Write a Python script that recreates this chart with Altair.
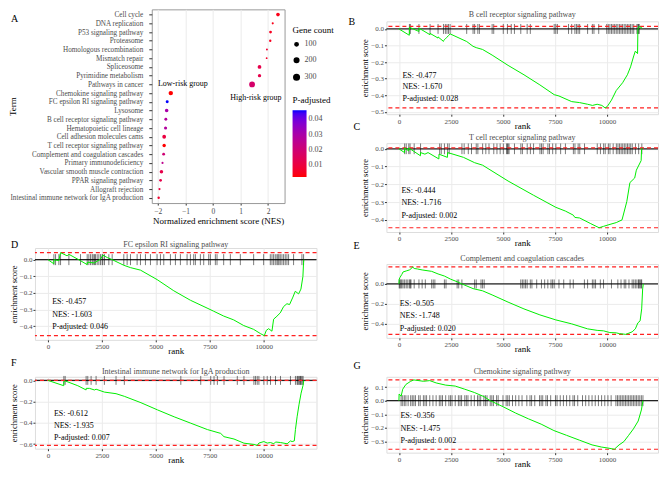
import altair as alt
import pandas as pd

FONT = "Liberation Serif"
GRID = "#ebebeb"
LABEL = "#4d4d4d"

# ---------------- Panel A data ----------------
terms = ["Cell cycle", "DNA replication", "P53 signaling pathway", "Proteasome",
         "Homologous recombination", "Mismatch repair", "Spliceosome",
         "Pyrimidine metabolism", "Pathways in cancer", "Chemokine signaling pathway",
         "FC epsilon RI signaling pathway", "Lysosome", "B cell receptor signaling pathway",
         "Hematopoietic cell lineage", "Cell adhesion molecules cams",
         "T cell receptor signaling pathway", "Complement and coagulation cascades",
         "Primary immunodeficiency", "Vascular smooth muscle contraction",
         "PPAR signaling pathway", "Allograft rejection",
         "Intestinal immune network for IgA production"]
nes = [2.36, 2.17, 2.09, 2.08, 1.96, 1.95, 1.69, 1.69, 1.42, -1.53, -1.66, -1.68,
       -1.71, -1.72, -1.77, -1.77, -1.79, -1.83, -1.87, -1.90, -1.94, -1.97]
gene_count = [125, 36, 68, 46, 28, 23, 127, 98, 325, 189, 79, 121,
              75, 87, 133, 108, 69, 35, 115, 69, 38, 48]
p_adjusted = [0.004, 0.004, 0.005, 0.005, 0.008, 0.006, 0.012, 0.012, 0.018, 0.002, 0.046, 0.030,
              0.028, 0.028, 0.010, 0.002, 0.020, 0.025, 0.012, 0.012, 0.010, 0.007]
group_labels = ["Low-risk group", "High-risk group"]
group_nes = [-1.09, 1.56]
group_term = ["Pathways in cancer", "Chemokine signaling pathway"]

# ---------------- GSEA panels: running enrichment score (rank, ES) ----------------
B_curve = [(0, 0.0), (500, -0.038), (505, 0.01), (960, -0.015), (963, 0.005), (1495, -0.035),
           (1498, -0.027), (1880, -0.055), (1881, -0.048), (2140, -0.075), (2150, -0.07),
           (2232, -0.06), (2309, -0.05), (2385, -0.04), (2462, -0.03), (3257, -0.076),
           (3563, -0.105), (3716, -0.113), (4022, -0.124), (4480, -0.158), (5245, -0.22),
           (6010, -0.277), (6774, -0.338), (7462, -0.397), (7691, -0.405), (8303, -0.439),
           (8685, -0.445), (9067, -0.455), (9300, -0.462), (9526, -0.455), (9750, -0.462),
           (9908, -0.477), (10015, -0.468), (10214, -0.43), (10443, -0.372), (10749, -0.325),
           (10979, -0.277), (11131, -0.229), (11284, -0.163), (11361, -0.134), (11468, -0.149),
           (11483, 0.0), (11550, 0.015), (11697, 0.004)]
C_curve = [(0, 0.0), (270, -0.021), (275, 0.005), (470, -0.012), (474, 0.005), (1035, -0.039),
           (1040, -0.021), (1250, -0.03), (1400, -0.021), (1920, -0.057), (1927, -0.03),
           (2330, -0.048), (2341, -0.021), (2600, -0.03), (3104, -0.048), (3639, -0.078),
           (4022, -0.092), (5245, -0.181), (6468, -0.261), (7538, -0.329), (7997, -0.35),
           (8379, -0.373), (8456, -0.386), (8685, -0.389), (9220, -0.421), (9620, -0.444),
           (9837, -0.436), (10143, -0.425), (10443, -0.415), (10720, -0.40), (10950, -0.297),
           (11100, -0.19), (11330, -0.164), (11410, -0.12), (11640, -0.066), (11660, 0.0),
           (11700, 0.005)]
D_curve = [(0, 0.0), (275, -0.025), (278, 0.0), (505, -0.006), (586, 0.042), (890, 0.023),
           (972, 0.032), (1505, -0.006), (1821, -0.03), (1830, -0.015), (2150, -0.02),
           (2438, 0.003), (2546, 0.027), (2747, 0.013), (2978, 0.0), (3518, -0.034),
           (3827, -0.048), (4290, -0.063), (5061, -0.12), (5833, -0.187), (6604, -0.244),
           (7376, -0.291), (7684, -0.31), (8147, -0.339), (8610, -0.362), (9073, -0.396),
           (9536, -0.419), (9844, -0.444), (10030, -0.457), (10122, -0.425), (10230, -0.415),
           (10384, -0.43), (10461, -0.358), (10615, -0.34), (10770, -0.32), (10924, -0.282),
           (11078, -0.265), (11200, -0.27), (11356, -0.225), (11464, -0.19), (11619, -0.206),
           (11727, -0.177), (11819, -0.101), (11850, -0.015), (11865, 0.0)]
E_curve = [(0, 0.0), (15, 0.047), (46, 0.063), (138, 0.094), (199, 0.12), (352, 0.13),
           (505, 0.14), (612, 0.157), (657, 0.17), (734, 0.155), (887, 0.15), (1116, 0.14),
           (1575, 0.126), (1881, 0.1), (2186, 0.079), (2492, 0.047), (2798, 0.022), (3027, 0.0),
           (3563, -0.047), (4021, -0.069), (4480, -0.11), (5245, -0.182), (6009, -0.25),
           (6774, -0.31), (7538, -0.36), (8303, -0.40), (9067, -0.45), (9526, -0.465),
           (9832, -0.47), (10137, -0.487), (10443, -0.49), (10600, -0.498), (10902, -0.505),
           (11208, -0.48), (11361, -0.45), (11483, -0.39), (11590, -0.37), (11666, -0.25),
           (11712, -0.05), (11742, 0.0)]
F_curve = [(0, 0.0), (735, -0.05), (739, -0.01), (801, -0.005), (1386, -0.05), (1771, -0.09),
           (1775, -0.075), (1925, -0.075), (2156, -0.09), (2233, -0.083), (2618, -0.11),
           (3157, -0.125), (3542, -0.15), (4312, -0.21), (5082, -0.278), (5852, -0.343),
           (6622, -0.403), (7392, -0.463), (8008, -0.499), (8162, -0.53), (8624, -0.552),
           (9086, -0.591), (9548, -0.603), (9702, -0.612), (9779, -0.59), (10010, -0.576),
           (10164, -0.59), (10318, -0.585), (10472, -0.597), (10549, -0.58), (10780, -0.585),
           (11088, -0.597), (11242, -0.57), (11319, -0.576), (11420, -0.57), (11473, -0.463),
           (11550, -0.343), (11642, -0.224), (11735, -0.12), (11827, -0.045), (11858, 0.0)]
G_curve = [(0, 0.0), (10, 0.049), (107, 0.033), (183, 0.084), (336, 0.119), (566, 0.142),
           (719, 0.152), (1177, 0.142), (1483, 0.147), (1789, 0.13), (2248, 0.114),
           (2706, 0.107), (3165, 0.084), (3624, 0.06), (4082, 0.03), (4388, 0.0),
           (5000, -0.044), (5611, -0.091), (6223, -0.133), (6835, -0.172), (7446, -0.219),
           (8058, -0.254), (8669, -0.289), (9281, -0.324), (9740, -0.34), (10045, -0.347),
           (10351, -0.356), (10580, -0.324), (10810, -0.3), (11039, -0.254), (11268, -0.207),
           (11498, -0.149), (11651, -0.068), (11727, 0.0)]

# gene-set hit positions (rank)
B_hits = [505, 550, 963, 1498, 1881, 2141, 2232, 2309, 2385, 2462, 3257, 3563, 3639, 3792, 3868,
          4480, 4556, 5015, 5214, 5398, 5551, 5856, 6162, 6315, 7462, 7538, 7615, 8150, 8303,
          8456, 8532, 8609, 8685, 9067, 9296, 9373, 9602, 9985, 10061, 10138, 10214, 10290,
          10367, 10443, 10520, 10596, 10673, 10749, 10826, 10902, 10979, 11055, 11131, 11208,
          11284, 11437, 11483, 11513, 11550]
C_hits = [275, 352, 474, 536, 734, 1040, 1958, 2035, 2188, 2341, 2417, 3029, 3136, 3335, 3488,
          3717, 3794, 4023, 4176, 4329, 4559, 4712, 4865, 5018, 5171, 5217, 5247, 5293, 5553,
          5859, 5935, 6165, 6318, 6471, 6777, 6853, 6930, 7159, 7236, 7389, 7542, 7771, 8001,
          8384, 8460, 8613, 8690, 8919, 9531, 9684, 9837, 9914, 10067, 10143, 10296, 10449,
          10526, 10602, 10679, 10755, 10832, 10908, 10985, 11061, 11138, 11214, 11367, 11520,
          11673]
D_hits = [278, 355, 509, 586, 972, 1512, 1821, 1898, 1975, 2053, 2099, 2160, 2207, 2284, 2361,
          2438, 2515, 2546, 2623, 2824, 2978, 3518, 3672, 3827, 4135, 4290, 4521, 4753, 5061,
          5215, 5370, 5678, 5910, 6141, 6450, 6604, 6758, 6836, 7067, 7221, 7453, 7530, 7761,
          7838, 8147, 8456, 8919, 9536, 9999, 10308, 10385, 10461, 10538, 10615, 10662, 10708,
          10770, 10847, 10924, 11001, 11078, 11155, 11387, 11773, 11850]
E_hits = [15, 46, 92, 138, 199, 275, 352, 428, 505, 550, 581, 734, 963, 1116, 1269, 1575, 1651,
          1728, 2186, 2263, 2798, 2874, 3027, 3639, 3716, 3945, 4021, 4098, 5856, 5933, 6009,
          6086, 6162, 6315, 6392, 6621, 6850, 7003, 7156, 7309, 7385, 7462, 7691, 7920, 8226,
          8379, 8914, 9067, 9296, 9373, 9449, 9679, 9832, 10214, 10520, 10673, 10826, 10902,
          11055, 11208, 11284, 11361, 11437, 11513, 11544, 11590, 11636, 11666]
F_hits = [739, 801, 1771, 1848, 2002, 2233, 2618, 3157, 3542, 6160, 7084, 7546, 7700, 7854,
          8162, 8778, 9086, 9548, 9625, 9702, 9779, 10010, 10164, 10318, 10549, 10780, 11242,
          11473, 11550, 11581, 11627, 11673, 11704, 11735, 11781, 11827]
G_hits = [107, 183, 260, 336, 443, 566, 642, 719, 795, 948, 1024, 1177, 1254, 1330, 1483, 1636,
          1789, 1942, 2018, 2095, 2248, 2401, 2477, 2553, 2706, 2859, 2936, 3012, 3165, 3241,
          3318, 3471, 3624, 3777, 3853, 3930, 4082, 4159, 4235, 4388, 4465, 4541, 4694, 4770,
          5000, 5153, 5229, 5306, 5459, 5611, 5764, 5917, 6147, 6299, 6376, 6529, 6758, 6835,
          6911, 7064, 7140, 7293, 7523, 7599, 7752, 7905, 8058, 8211, 8364, 8440, 8593, 8822,
          8975, 9128, 9281, 9434, 9587, 9740, 9893, 10045, 10198, 10427, 10504, 10580, 10657,
          10733, 10810, 10886, 10963, 11039, 11116, 11192, 11268, 11345, 11421, 11498, 11574,
          11651, 11727]

titles = {"B": "B cell receptor signaling pathway", "C": "T cell receptor signaling pathway",
          "D": "FC epsilon RI signaling pathway", "E": "Complement and coagulation cascades",
          "F": "Intestinal immune network for IgA production", "G": "Chemokine signaling pathway"}
es_text = {"B": "-0.477", "C": "-0.444", "D": "-0.457", "E": "-0.505", "F": "-0.612", "G": "-0.356"}
nes_text = {"B": "-1.670", "C": "-1.716", "D": "-1.603", "E": "-1.748", "F": "-1.935", "G": "-1.475"}
padj_text = {"B": "0.028", "C": "0.002", "D": "0.046", "E": "0.020", "F": "0.007", "G": "0.002"}

RANK_DOMAIN = [-600, 12450]


def note(text, px, py, size, color, align="left"):
    return alt.Chart(pd.DataFrame({"t": [text]})).mark_text(
        align=align, baseline="middle", fontSize=size, font=FONT, color=color).encode(
        x=alt.value(px), y=alt.value(py), text="t:N")


def gsea_panel(key, curve, hits, half, ydom, yvals, stat_x, stat_y, w, h, title_y, letters):
    cdf = pd.DataFrame(curve, columns=["rank", "es"])
    tdf = pd.DataFrame({"rank": hits})
    tdf["lo"] = -half
    tdf["hi"] = half
    xs = alt.Scale(domain=RANK_DOMAIN, nice=False, zero=False)
    ys = alt.Scale(domain=ydom, nice=False, zero=False)
    xax = alt.Axis(values=[0, 2500, 5000, 7500, 10000], format="d", labelFlush=False,
                   labelFontSize=7, labelColor=LABEL, labelFont=FONT, labelPadding=1,
                   titleFontSize=9, titleFont=FONT, titleFontWeight="normal", titleColor="black",
                   titlePadding=-3, tickSize=2, tickColor="#333333", domain=False,
                   grid=True, gridColor=GRID)
    yax = alt.Axis(values=yvals, format=".1f", labelFontSize=7, labelColor=LABEL, labelFont=FONT,
                   labelPadding=1, titleFontSize=8.5, titleFont=FONT, titleFontWeight="normal",
                   titleColor="black", titlePadding=1, tickSize=2, tickColor="#333333",
                   domain=False, grid=True, gridColor=GRID)

    def X(f):
        return alt.X(f, type="quantitative", scale=xs, axis=xax, title="rank")

    def Y(f):
        return alt.Y(f, type="quantitative", scale=ys, axis=yax, title="enrichment score")

    es_vals = [p[1] for p in curve]
    zero = alt.Chart(pd.DataFrame({"v": [0.0]})).mark_rule(
        color="#222222", strokeWidth=1.3).encode(y=Y("v"))
    ext = alt.Chart(pd.DataFrame({"v": [max(es_vals), min(es_vals)]})).mark_rule(
        color="#ff2020", strokeDash=[4, 3], strokeWidth=1.2).encode(y=Y("v"))
    tk = alt.Chart(tdf).mark_rule(color="black", opacity=0.7, strokeWidth=0.75).encode(
        x=X("rank"), y=Y("lo"), y2="hi")
    line = alt.Chart(cdf).mark_line(color="#00ee00", strokeWidth=1).encode(
        x=X("rank"), y=Y("es"))
    sdf = pd.DataFrame({"rank": [stat_x] * 3, "es": stat_y,
                        "label": ["ES: " + es_text[key], "NES: " + nes_text[key],
                                  "P-adjusted: " + padj_text[key]]})
    txt = alt.Chart(sdf).mark_text(align="left", baseline="middle", fontSize=8, font=FONT,
                                   color="black").encode(x=X("rank"), y=Y("es"), text="label:N")
    layers = [zero, tk, ext, line, txt, note(titles[key], w / 2, title_y, 8, LABEL, "center")]
    for (lt, lx, ly) in letters:
        layers.append(note(lt, lx, ly, 10, "black"))
    return alt.layer(*layers).properties(width=w, height=h)


def spacer():
    return alt.Chart(pd.DataFrame({"s": [0]})).mark_point(opacity=0, size=1).properties(
        width=1, height=1)


# ---------------- Panel A ----------------
A_W, A_H = 133, 194
dfA = pd.DataFrame({"Term": terms, "NES": nes, "Count": gene_count, "P": p_adjusted})
xA = alt.Scale(domain=[-2.22, 2.6], nice=False, zero=False)
yA = alt.Scale(type="point", padding=0.6)
xaxA = alt.Axis(values=[-2, -1, 0, 1, 2], format="d", labelFontSize=7.5, labelColor=LABEL,
                labelFont=FONT, titleFont=FONT, titleFontSize=9, titleFontWeight="normal",
                titleColor="black", tickSize=2, tickColor="#333333", domain=False,
                gridColor=GRID, labelPadding=2, titlePadding=2, labelFlush=False)
yaxA = alt.Axis(labelFontSize=7.2, labelColor=LABEL, labelFont=FONT, titleFont=FONT,
                titleFontSize=9, titleFontWeight="normal", titleColor="black", tickSize=3,
                tickColor="#333333", domain=False, gridColor=GRID, labelPadding=6,
                titleX=-134, titleY=A_H / 2, titleAngle=270)
pts = alt.Chart(dfA).mark_circle(opacity=1).encode(
    x=alt.X("NES:Q", scale=xA, axis=xaxA, title="Normalized enrichment score (NES)"),
    y=alt.Y("Term:N", sort=terms, scale=yA, axis=yaxA, title="Term"),
    size=alt.Size("Count:Q", scale=alt.Scale(domain=[20, 330], range=[3, 34]),
                  legend=alt.Legend(title="Gene count", values=[100, 200, 300], orient="none",
                                    legendX=A_W + 8, legendY=17, titleFont=FONT,
                                    titleFontSize=9, titleFontWeight="normal",
                                    labelFont=FONT, labelFontSize=8, labelColor=LABEL,
                                    symbolFillColor="black", symbolStrokeColor="black",
                                    symbolType="circle", rowPadding=5, titlePadding=5)),
    color=alt.Color("P:Q", scale=alt.Scale(domain=[0.002, 0.046], range=["#ff0000", "#0000ff"],
                                           interpolate="lab"),
                    legend=alt.Legend(title="P-adjusted", values=[0.01, 0.02, 0.03, 0.04],
                                      format=".2f", orient="none", legendX=A_W + 8, legendY=87,
                                      gradientLength=67, gradientThickness=14, titleFont=FONT,
                                      titleFontSize=9, titleFontWeight="normal", labelFont=FONT,
                                      labelFontSize=8, labelColor=LABEL, titlePadding=5)),
)
dfG = pd.DataFrame({"label": group_labels, "NES": group_nes, "Term": group_term})
low = alt.Chart(dfG.iloc[[0]]).mark_text(fontSize=8, font=FONT, color="black").encode(
    x=alt.X("NES:Q", scale=xA, axis=xaxA, title="Normalized enrichment score (NES)"),
    y=alt.Y("Term:N", sort=terms, scale=yA, axis=yaxA, title="Term"), text="label:N")
high = alt.Chart(dfG.iloc[[1]]).mark_text(fontSize=8, font=FONT, color="black", dy=5).encode(
    x=alt.X("NES:Q", scale=xA, axis=xaxA, title="Normalized enrichment score (NES)"),
    y=alt.Y("Term:N", sort=terms, scale=yA, axis=yaxA, title="Term"), text="label:N")
panelA = alt.layer(pts, low, high, note("A", -141, 10, 10, "black")).properties(
    width=A_W, height=A_H, view=alt.ViewBackground(stroke="#9a9a9a", strokeWidth=1))

# ---------------- GSEA panels ----------------
B_H, C_H, E_H, G_H = 93, 89, 74, 76
D_H, F_H = 92, 72
RW, LW = 272, 282

pB = gsea_panel("B", B_curve, B_hits, 0.03, [-0.515, 0.046], [-0.5, -0.4, -0.3, -0.2, -0.1, 0.0],
                170, [-0.282, -0.349, -0.426], RW, B_H, -6.6,
                [("B", -38, 1), ("C", -33, B_H + 12.7)])
pC = gsea_panel("C", C_curve, C_hits, 0.03, [-0.468, 0.032], [-0.4, -0.3, -0.2, -0.1, 0.0],
                120, [-0.24, -0.302, -0.377], RW, C_H, -4.8, [("E", -33, C_H + 14)])
pE = gsea_panel("E", E_curve, E_hits, 0.045, [-0.54, 0.20], [-0.4, -0.2, 0.0],
                46, [-0.204, -0.324, -0.45], RW, E_H, -4.5, [])
pG = gsea_panel("G", G_curve, G_hits, 0.04, [-0.381, 0.175], [-0.3, -0.2, -0.1, 0.0, 0.1],
                76, [-0.112, -0.205, -0.299], RW, G_H, -5, [("G", -33, -11)])
pD = gsea_panel("D", D_curve, D_hits, 0.033, [-0.482, 0.07], [-0.4, -0.3, -0.2, -0.1, 0.0],
                200, [-0.254, -0.33, -0.406], LW, D_H, -3.2, [("D", -24, -3)])
pF = gsea_panel("F", F_curve, F_hits, 0.042, [-0.643, 0.034], [-0.6, -0.4, -0.2, 0.0],
                277, [-0.32, -0.433, -0.546], LW, F_H, -5.2, [("F", -24, -13.8)])

res = dict(color="independent", size="independent")
rowA = alt.hconcat(spacer(), panelA, spacing=-28).resolve_scale(**res)
left = alt.vconcat(rowA, alt.vconcat(pD, pF, spacing=0), spacing=13).resolve_scale(**res)
right = alt.vconcat(
    spacer(),
    alt.vconcat(alt.vconcat(alt.vconcat(pB, pC, spacing=0), pE, spacing=3), pG, spacing=5),
    spacing=-1)

chart = alt.hconcat(left, right, spacing=12).resolve_scale(**res).properties(
    padding=0, background="white"
).configure_view(stroke=None).configure(font=FONT)

chart.save("out.html", embed_options={"renderer": "svg", "actions": False})
